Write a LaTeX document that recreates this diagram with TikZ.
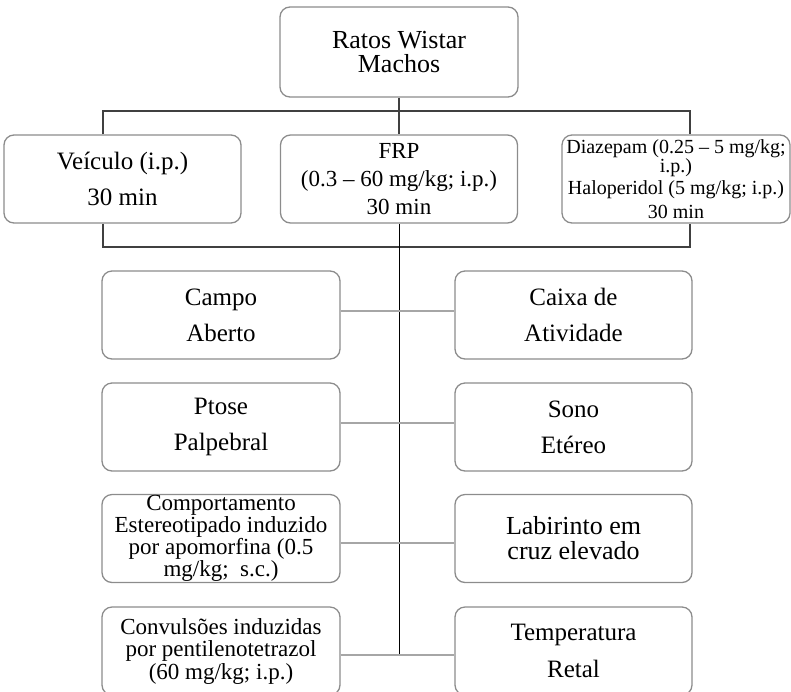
\documentclass[tikz,border=0pt]{standalone}
\usepackage{fontspec}
\setmainfont{Liberation Serif}
\begin{document}
\begin{tikzpicture}[x=1pt, y=-1pt,
		caixa/.style={draw=gray!90, rectangle, rounded corners=10pt, line width=1.3pt, minimum width=237pt, minimum height=88pt, align=center, inner sep=0pt},
		ligacao/.style={draw=gray!70, line width=1.5pt},
		chave/.style={draw=black!75, line width=1.2pt}]
				\useasboundingbox (0, 0) rectangle (791, 691);
				% tratamento
				\node[caixa, minimum width=238pt, minimum height=90pt, font=\fontsize{26pt}{24pt}\selectfont] (ratos)at(399, 52) {Ratos Wistar\\Machos};
				\node[caixa, font=\fontsize{25pt}{36pt}\selectfont] (veiculo)at(122.5, 179) {Veículo (i.p.)\\30 min};
				\node[caixa, font=\fontsize{23pt}{28pt}\selectfont] (frp)at(399, 179) {FRP\\(0.3 – 60 mg/kg; i.p.)\\30 min};
				\node[caixa, minimum width=228pt, font=\fontsize{20pt}{25pt}\selectfont] (diaz)at(676, 179) {Diazepam (0.25 – 5 mg/kg;\\[-6pt]i.p.)\\[-3pt]Haloperidol (5 mg/kg; i.p.)\\[-1pt]30 min};
				% testes
				\node[caixa, minimum width=238pt, font=\fontsize{25pt}{36pt}\selectfont] (campo)at(221, 315) {Campo\\Aberto};
				\node[caixa, font=\fontsize{25pt}{36pt}\selectfont] (caixaat)at(573.5, 315) {Caixa de\\Atividade};
				\node[caixa, minimum width=238pt, font=\fontsize{25pt}{36pt}\selectfont] (ptose)at(221, 427) {Ptose\\Palpebral};
				\node[caixa, font=\fontsize{25pt}{36pt}\selectfont] (sono)at(573.5, 427) {Sono\\Etéreo};
				\node[caixa, minimum width=238pt, font=\fontsize{23pt}{19pt}\selectfont] (comport)at(221, 538.5) {Comportamento\\Estereotipado induzido\\por apomorfina (0.5\\mg/kg;~ s.c.)};
				\node[caixa, font=\fontsize{26pt}{25pt}\selectfont] (labirinto)at(573.5, 538.5) {Labirinto em\\cruz elevado};
				\node[caixa, minimum width=238pt, font=\fontsize{23pt}{22.5pt}\selectfont] (convuls)at(221, 651) {Convulsões induzidas\\por pentilenotetrazol\\(60 mg/kg; i.p.)};
				\node[caixa, font=\fontsize{25pt}{37pt}\selectfont] (temp)at(573.5, 651) {Temperatura\\Retal};
				% chaves
				\coordinate (ce)at(103, 111);
				\coordinate (cd)at(690, 111);
				\coordinate (be)at(103, 247);
				\coordinate (bd)at(690, 247);
				\coordinate (fim)at(399, 655);
				\draw[chave] (ratos.south) -- (frp.north);
				\draw[chave] (veiculo.north -| ce) -- (ce) -- (cd) -- (diaz.north -| cd);
				\draw[chave] (veiculo.south -| be) -- (be) -- (bd) -- (diaz.south -| bd);
				\draw[black, line width=1pt] (frp.south) -- (fim);
				\draw[ligacao] ([yshift=4pt]campo.east) -- ([yshift=4pt]caixaat.west);
				\draw[ligacao] ([yshift=4pt]ptose.east) -- ([yshift=4pt]sono.west);
				\draw[ligacao] ([yshift=-4.5pt]comport.east) -- ([yshift=-4.5pt]labirinto.west);
				\draw[ligacao] ([yshift=-4pt]convuls.east) -- ([yshift=-4pt]temp.west);
			\end{tikzpicture}
\end{document}
